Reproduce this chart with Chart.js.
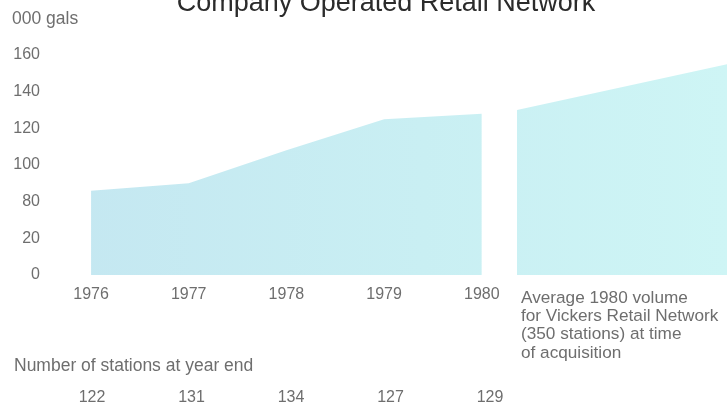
<!DOCTYPE html>
<html>
<head>
<meta charset="utf-8">
<script src="https://cdn.jsdelivr.net/npm/chart.js@4/dist/chart.umd.min.js"></script>
<style>
  html, body { margin: 0; padding: 0; background: #ffffff; }
  #wrap { width: 728px; height: 405px; position: relative; }
</style>
</head>
<body>
<div id="wrap"><canvas id="chart" width="728" height="405"></canvas></div>
<script>
// Sales volume of the company operated retail network, thousand gallons
const years = [1976, 1977, 1978, 1979, 1980];
const volume = [86, 90, 108, 125, 128];
const stations = [122, 131, 134, 127, 129];

// Vickers retail network at acquisition: average 1980 volume
const vickersYears = [1980.36, 1982.51];
const vickersVolume = [130, 155];

const yTickLabels = [0, 20, 80, 100, 120, 140, 160];
const vickersNote = ['Average 1980 volume', 'for Vickers Retail Network', '(350 stations) at time', 'of acquisition'];

const TITLE = 'Company Operated Retail Network';
const UNIT = '000 gals';
const STATIONS_LABEL = 'Number of stations at year end';

// The vertical axis is broken between 20 and 80: values of 80 and above
// are shifted down by 40 so the axis steps evenly 0, 20, 80, 100 ...
const BREAK_AT = 80, BREAK_GAP = 40;
const squeeze = v => (v >= BREAK_AT ? v - BREAK_GAP : v);
const unsqueeze = v => (v >= BREAK_AT - BREAK_GAP ? v + BREAK_GAP : v);

const FONT = '"Liberation Sans", Arial, sans-serif';
const TEXT = '#6e6e6e';
const STATION_COL = 99.5; // column pitch of the station count row

function areaFill(ctx) {
  const area = ctx.chart.chartArea;
  if (!area) return '#c9ecf2';
  const g = ctx.chart.ctx.createLinearGradient(area.left, 0, area.right, 0);
  g.addColorStop(0, '#c4e7f1');
  g.addColorStop(0.55, '#c9eff3');
  g.addColorStop(1, '#cef5f5');
  return g;
}

const textPlugin = {
  id: 'textPlugin',
  afterDraw(chart) {
    const c = chart.ctx;
    const x = chart.scales.x;
    c.save();
    // title
    c.fillStyle = '#2b2b2b';
    c.font = '27px ' + FONT;
    c.textAlign = 'center';
    c.textBaseline = 'alphabetic';
    c.fillText(TITLE, 386, 11);

    c.fillStyle = TEXT;
    c.font = '17.5px ' + FONT;
    c.textAlign = 'left';
    c.textBaseline = 'middle';
    c.fillText(UNIT, 12, 19);

    // note beside the Vickers block
    c.font = '17.2px ' + FONT;
    const nx = x.getPixelForValue(vickersYears[0]) + 4;
    vickersNote.forEach((line, i) => c.fillText(line, nx, 298 + i * 18.3));

    // station counts under each year
    c.font = '17.5px ' + FONT;
    c.fillText(STATIONS_LABEL, 14, 366);
    c.font = '16px ' + FONT;
    c.textAlign = 'center';
    const x0 = x.getPixelForValue(years[0]) + 1;
    stations.forEach((n, i) => {
      c.fillText(String(n), x0 + i * STATION_COL, 398);
    });
    c.restore();
  }
};

new Chart(document.getElementById('chart'), {
  type: 'line',
  data: {
    datasets: [
      {
        label: 'Company operated',
        data: years.map((yr, i) => ({ x: yr, y: squeeze(volume[i]) })),
        fill: 'origin',
        backgroundColor: areaFill,
        borderWidth: 0,
        pointRadius: 0,
        tension: 0
      },
      {
        label: 'Vickers',
        data: vickersYears.map((yr, i) => ({ x: yr, y: squeeze(vickersVolume[i]) })),
        fill: 'origin',
        backgroundColor: areaFill,
        borderWidth: 0,
        pointRadius: 0,
        tension: 0
      }
    ]
  },
  options: {
    responsive: false,
    animation: false,
    layout: { padding: { top: 55, right: 0, bottom: 100, left: 0 } },
    plugins: { legend: { display: false }, tooltip: { enabled: false }, title: { display: false } },
    scales: {
      x: {
        type: 'linear',
        min: 1975.58,
        max: 1982.52,
        grid: { display: false, drawTicks: false },
        border: { display: false },
        afterBuildTicks: s => { s.ticks = years.map(v => ({ value: v })); },
        afterFit: s => { s.height = 30; },
        ticks: {
          padding: 10,
          color: TEXT,
          font: { family: FONT, size: 16 },
          callback: v => String(v)
        }
      },
      y: {
        type: 'linear',
        min: 0,
        max: squeeze(yTickLabels[yTickLabels.length - 1]),
        grid: { display: false, drawTicks: false },
        border: { display: false },
        afterBuildTicks: s => { s.ticks = yTickLabels.map(v => ({ value: squeeze(v) })); },
        afterFit: s => { s.width = 50; },
        ticks: {
          padding: 10,
          color: TEXT,
          font: { family: FONT, size: 16 },
          callback: v => String(unsqueeze(v))
        }
      }
    }
  },
  plugins: [textPlugin]
});
</script>
</body>
</html>
